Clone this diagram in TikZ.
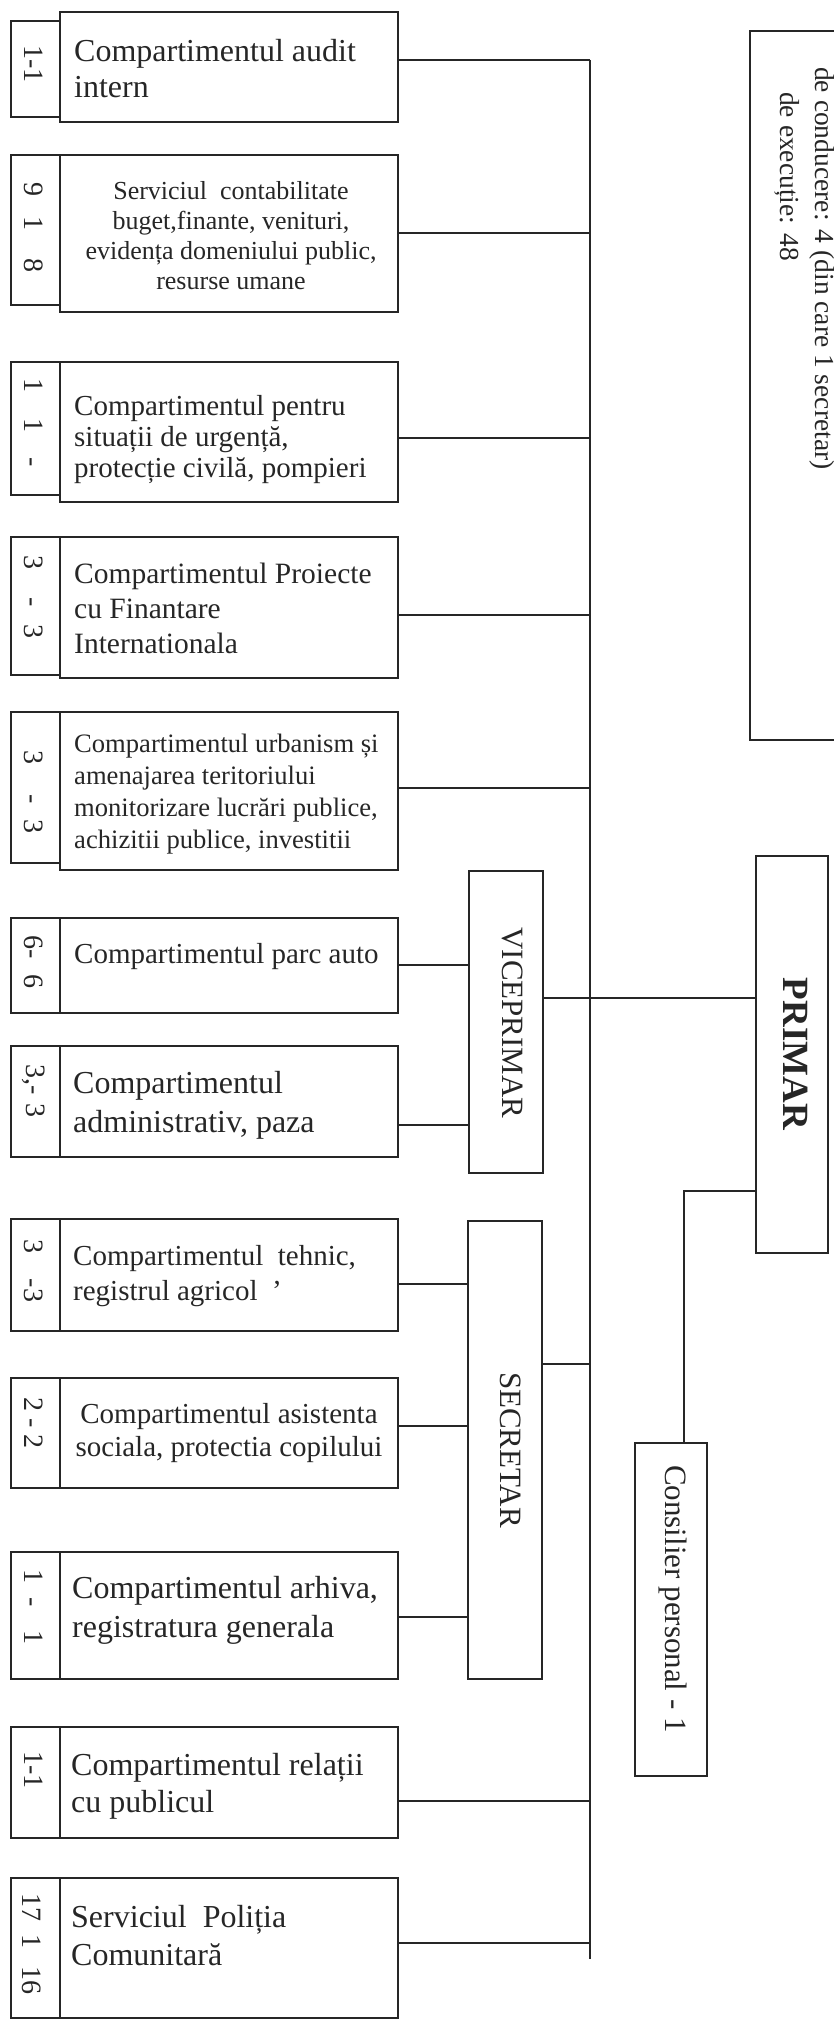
\documentclass[tikz,border=0pt]{standalone}
\usepackage{fontspec}
\setmainfont{Liberation Serif}
\definecolor{ink}{HTML}{262626}
\newcommand{\fsz}[2]{\fontsize{#1}{#2}\selectfont}
\begin{document}
\begin{tikzpicture}[x=1pt,y=-1pt,
  box/.style={draw=ink, line width=1.2pt, inner sep=0pt, outer sep=0pt},
  conn/.style={draw=ink, line width=1.1pt},
  rtext/.style={rotate=-90, inner sep=0pt, text=ink},
  numtext/.style={rotate=-90, inner sep=0pt, text=ink, font=\fsz{28}{30}},
  body/.style={inner sep=0pt, anchor=base west, text=ink},
  cbody/.style={inner sep=0pt, anchor=base, text=ink}]
\useasboundingbox (0,0) rectangle (833,2020);

% ---------- department boxes ----------
\node[box, minimum width=338pt, minimum height=110pt] (b1) at (229,67) {};
\node[box, minimum width=49pt, minimum height=96pt] (n1) at (35.5,69) {};
\node[box, minimum width=338pt, minimum height=157pt] (b2) at (229,233.5) {};
\node[box, minimum width=49pt, minimum height=150pt] (n2) at (35.5,230) {};
\node[box, minimum width=338pt, minimum height=140pt] (b3) at (229,432) {};
\node[box, minimum width=49pt, minimum height=133pt] (n3) at (35.5,428.5) {};
\node[box, minimum width=338pt, minimum height=141pt] (b4) at (229,607.5) {};
\node[box, minimum width=49pt, minimum height=138pt] (n4) at (35.5,606) {};
\node[box, minimum width=338pt, minimum height=158pt] (b5) at (229,791) {};
\node[box, minimum width=49pt, minimum height=151pt] (n5) at (35.5,787.5) {};
\node[box, minimum width=338pt, minimum height=95pt] (b6) at (229,965.5) {};
\node[box, minimum width=49pt, minimum height=95pt] (n6) at (35.5,965.5) {};
\node[box, minimum width=338pt, minimum height=111pt] (b7) at (229,1101.5) {};
\node[box, minimum width=49pt, minimum height=111pt] (n7) at (35.5,1101.5) {};
\node[box, minimum width=338pt, minimum height=112pt] (b8) at (229,1275) {};
\node[box, minimum width=49pt, minimum height=112pt] (n8) at (35.5,1275) {};
\node[box, minimum width=338pt, minimum height=110pt] (b9) at (229,1433) {};
\node[box, minimum width=49pt, minimum height=110pt] (n9) at (35.5,1433) {};
\node[box, minimum width=338pt, minimum height=127pt] (b10) at (229,1615.5) {};
\node[box, minimum width=49pt, minimum height=127pt] (n10) at (35.5,1615.5) {};
\node[box, minimum width=338pt, minimum height=111pt] (b11) at (229,1782.5) {};
\node[box, minimum width=49pt, minimum height=111pt] (n11) at (35.5,1782.5) {};
\node[box, minimum width=338pt, minimum height=140pt] (b12) at (229,1948) {};
\node[box, minimum width=49pt, minimum height=140pt] (n12) at (35.5,1948) {};

% ---------- staff numbers ----------
\node[numtext] (k1) at (34,64) {1-1};
\node[numtext] (k2) at (34,228) {9\hspace{20pt}1\hspace{28pt}8};
\node[numtext] (k3) at (34,423) {1\hspace{26pt}1\hspace{25pt}-};
\node[numtext] (k4) at (34,597) {3\hspace{28pt}-\hspace{17pt}3};
\node[numtext] (k5) at (34,792) {3\hspace{30pt}-\hspace{15pt}3};
\node[numtext] (k6) at (34,962) {6-\hspace{15pt}6};
\node[numtext] (k7) at (34,1091) {3,-\hspace{8pt}3};
\node[numtext] (k8) at (34,1271) {3\hspace{25pt}-3};
\node[numtext] (k9) at (34,1423) {2 - 2};
\node[numtext] (k10) at (34,1607) {1\hspace{14pt}-\hspace{23pt}1};
\node[numtext] (k11) at (34,1770) {1-1};
\node[numtext] (k12) at (32,1944) {17\hspace{13pt}1\hspace{18pt}16};

% ---------- department texts ----------
\node[body] (t1) at (74,62) {\parbox[t]{320pt}{\fsz{32}{36}\raggedright Compartimentul audit\\intern}};
\node[cbody] (t2) at (231,200) {\parbox[t]{330pt}{\fsz{26}{30}\centering Serviciul\ \ contabilitate\\buget,finante, venituri,\\evidența domeniului public,\\resurse umane}};
\node[body] (t3) at (74,415) {\parbox[t]{320pt}{\fsz{29}{31}\raggedright Compartimentul pentru\\situații de urgență,\\protecție civilă, pompieri}};
\node[body] (t4) at (74,583) {\parbox[t]{320pt}{\fsz{29.5}{35}\raggedright Compartimentul Proiecte\\cu Finantare\\Internationala}};
\node[body] (t5) at (74,752) {\parbox[t]{320pt}{\fsz{26.6}{32}\raggedright Compartimentul urbanism și\\amenajarea teritoriului\\monitorizare lucrări publice,\\achizitii publice, investitii}};
\node[body] (t6) at (74,963) {\fsz{29}{31}Compartimentul parc auto};
\node[body] (t7) at (73,1093) {\parbox[t]{320pt}{\fsz{32}{39}\raggedright Compartimentul\\administrativ, paza}};
\node[body] (t8) at (73,1265) {\parbox[t]{320pt}{\fsz{29}{35}\raggedright Compartimentul\ \ tehnic,\\registrul agricol\ \ ’}};
\node[cbody] (t9) at (229,1423) {\parbox[t]{330pt}{\fsz{29}{33}\centering Compartimentul asistenta\\sociala, protectia copilului}};
\node[body] (t10) at (72,1598) {\parbox[t]{320pt}{\fsz{32}{39}\raggedright Compartimentul arhiva,\\registratura generala}};
\node[body] (t11) at (71,1775) {\parbox[t]{320pt}{\fsz{32}{37}\raggedright Compartimentul relații\\cu publicul}};
\node[body] (t12) at (71,1927) {\parbox[t]{320pt}{\fsz{32}{38}\raggedright Serviciul\ \ Poliția\\Comunitară}};

% ---------- leadership boxes ----------
\node[box, minimum width=74pt, minimum height=302pt] (vice) at (506,1022) {};
\node[rtext, font=\fsz{31}{33}] (vicet) at (513,1023) {VICEPRIMAR};
\node[box, minimum width=74pt, minimum height=458pt] (secr) at (505,1450) {};
\node[rtext, font=\fsz{31}{33}] (secrt) at (511,1450) {SECRETAR};
\node[box, minimum width=72pt, minimum height=397pt] (primar) at (792,1054.5) {};
\node[rtext, font=\fsz{37}{39}\bfseries] (primart) at (796,1054) {PRIMAR};
\node[box, minimum width=72pt, minimum height=333pt] (cons) at (671,1609.5) {};
\node[rtext, font=\fsz{31}{33}] (const) at (673,1599) {Consilier personal - 1};

% ---------- staff summary box (cut at the right edge) ----------
\draw[conn, line width=1.2pt] (836,31) -- (750,31) -- (750,740) -- (836,740);
\node[rtext, anchor=base west, font=\fsz{27.5}{29}] (lead1) at (815,67) {de conducere: 4 (din care 1 secretar)};
\node[rtext, anchor=base west, font=\fsz{27.5}{29}] (lead2) at (780,92) {de execuție: 48};

% ---------- connectors ----------
\coordinate (trunk) at (590,0);
\coordinate (ytop) at (0,60);
\coordinate (ybot) at (0,1959);
\draw[conn] (trunk |- ytop) -- (trunk |- ybot);

\coordinate (y1) at (0,60);
\coordinate (y2) at (0,233);
\coordinate (y3) at (0,438);
\coordinate (y4) at (0,615);
\coordinate (y5) at (0,788);
\coordinate (y6) at (0,965);
\coordinate (y7) at (0,1125);
\coordinate (y8) at (0,1284);
\coordinate (y9) at (0,1426);
\coordinate (y10) at (0,1617);
\coordinate (y11) at (0,1801);
\coordinate (y12) at (0,1943);
\coordinate (yv) at (0,998);
\coordinate (ys) at (0,1364);
\coordinate (yc) at (0,1191);
\coordinate (xc) at (684,0);

\draw[conn] (b1.east |- y1) -- (trunk |- y1);
\draw[conn] (b2.east |- y2) -- (trunk |- y2);
\draw[conn] (b3.east |- y3) -- (trunk |- y3);
\draw[conn] (b4.east |- y4) -- (trunk |- y4);
\draw[conn] (b5.east |- y5) -- (trunk |- y5);
\draw[conn] (b6.east |- y6) -- (vice.west |- y6);
\draw[conn] (b7.east |- y7) -- (vice.west |- y7);
\draw[conn] (b8.east |- y8) -- (secr.west |- y8);
\draw[conn] (b9.east |- y9) -- (secr.west |- y9);
\draw[conn] (b10.east |- y10) -- (secr.west |- y10);
\draw[conn] (b11.east |- y11) -- (trunk |- y11);
\draw[conn] (b12.east |- y12) -- (trunk |- y12);
\draw[conn] (vice.east |- yv) -- (primar.west |- yv);
\draw[conn] (secr.east |- ys) -- (trunk |- ys);
\draw[conn] (cons.north -| xc) |- (primar.west |- yc);
\end{tikzpicture}
\end{document}
